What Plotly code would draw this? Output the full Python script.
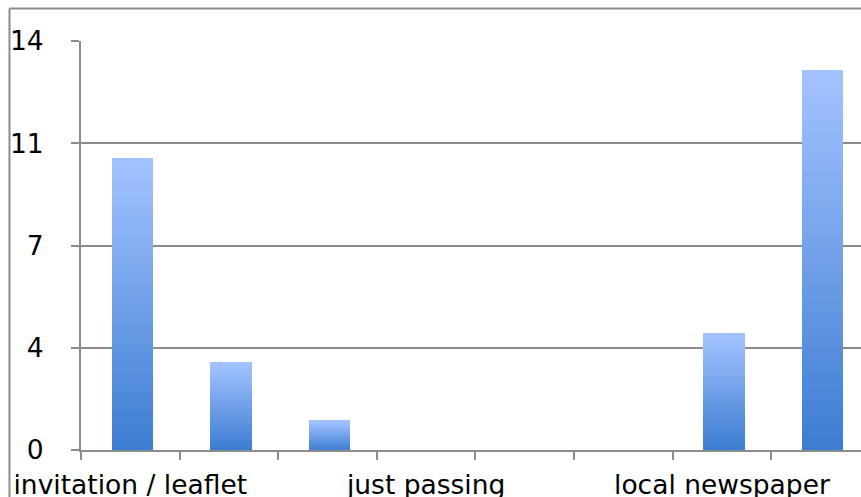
import plotly.graph_objects as go

# ---- data ----
categories = ["invitation / leaflet", "(unlabelled 2)", "(unlabelled 3)", "just passing",
              "(unlabelled 5)", "(unlabelled 6)", "local newspaper", "(unlabelled 8)"]
values = [10, 3, 1, 0, 0, 0, 4, 13]
x_tick_text = ["invitation / leaflet", "", "", "just passing", "", "", "local newspaper", ""]
y_tick_vals = [0, 3.5, 7, 10.5, 14]
y_tick_text = ["0", "4", "7", "11", "14"]

# ---- style ----
N = 30
top_rgb = (162, 194, 255)
bot_rgb = (62, 126, 210)
grey = "#8c8c8c"
font = dict(family="DejaVu Sans", size=26.5, color="black")

fig = go.Figure()
for i in range(N):
    t = i / (N - 1)  # 0 at bottom, 1 at top
    c = tuple(round(b + (a - b) * t) for a, b in zip(top_rgb, bot_rgb))
    fig.add_trace(go.Bar(
        x=categories, y=[v / N for v in values], width=0.42, offset=-0.19,
        marker=dict(color="rgb(%d,%d,%d)" % c, line=dict(width=0)),
        showlegend=False, hoverinfo="skip"))

fig.update_layout(
    template="none",
    width=861, height=497, barmode="stack", bargap=0,
    margin=dict(l=81, r=0, t=41, b=47, pad=0),
    paper_bgcolor="white", plot_bgcolor="white",
    font=font, showlegend=False,
    xaxis=dict(type="category", range=[-0.5, 7.41], tickmode="array",
               tickvals=categories, ticktext=x_tick_text, tickson="boundaries",
               tickangle=0, automargin=False, ticklabelstandoff=10,
               ticks="outside", ticklen=8, tickwidth=2, tickcolor=grey,
               showline=True, linecolor=grey, linewidth=2, showgrid=False,
               tickfont=font, fixedrange=True),
    yaxis=dict(range=[0, 14], tickmode="array", tickvals=y_tick_vals, ticktext=y_tick_text,
               automargin=False,
               ticks="outside", ticklen=8, tickwidth=2, tickcolor=grey,
               showline=True, linecolor=grey, linewidth=2,
               showgrid=True, gridcolor=grey, gridwidth=2, zeroline=False,
               tickfont=font, ticklabelstandoff=22, fixedrange=True),
    shapes=[
        dict(type="line", xref="paper", yref="paper", x0=-0.0917, x1=1.05, y0=1.0795, y1=1.0795,
             line=dict(color=grey, width=2)),
        dict(type="line", xref="paper", yref="paper", x0=-0.0917, x1=-0.0917, y0=-0.2, y1=1.0795,
             line=dict(color=grey, width=2)),
    ],
)

fig.write_html("out.html", config={"displayModeBar": False},
               post_script="document.body.style.margin='0';document.body.style.overflow='hidden';")
